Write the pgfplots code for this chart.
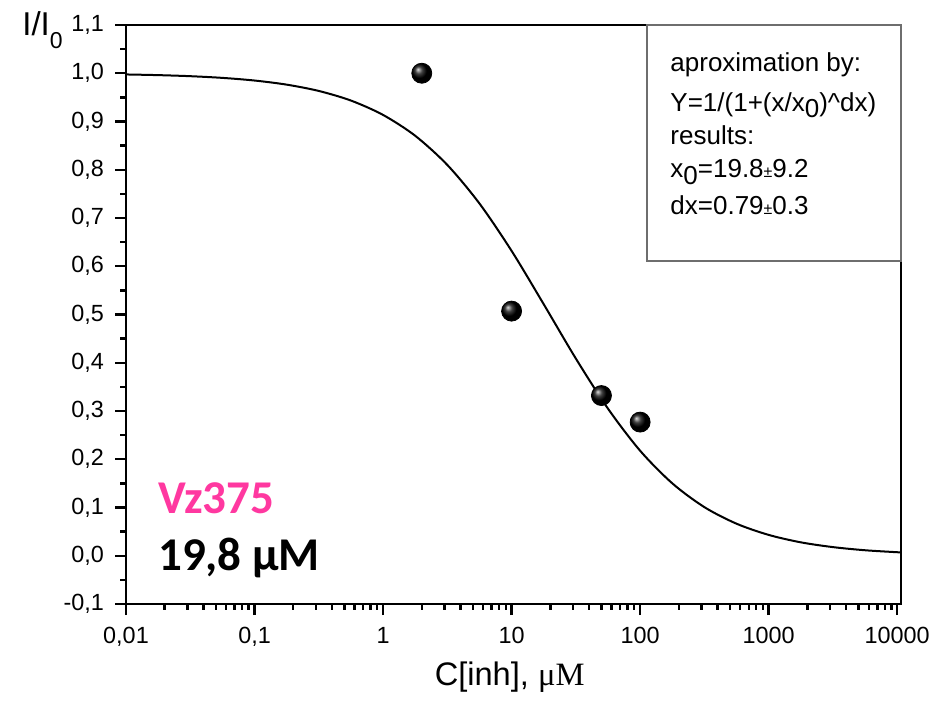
\documentclass[border=0pt]{standalone}
\usepackage{pgfplots}
\pgfplotsset{compat=1.18}
\usepackage{fontspec}
\setmainfont{Liberation Sans}
\newfontfamily\timesfont{Liberation Serif}
\newfontfamily\calibri{Carlito}
\definecolor{vzpink}{RGB}{255,56,160}
\definecolor{boxgray}{RGB}{110,110,110}

\begin{document}
\begin{tikzpicture}
\begin{axis}[
    scale only axis,
    width=387.5pt,
    height=289.5pt,
    xmode=log,
    xmin=0.01, xmax=10700,
    ymin=-0.1, ymax=1.1,
    xtick={0.01,0.1,1,10,100,1000,10000},
    xticklabels={{0,01},{0,1},1,10,100,1000,10000},
    minor xtick={0.02,0.03,0.04,0.05,0.06,0.07,0.08,0.09,
                 0.2,0.3,0.4,0.5,0.6,0.7,0.8,0.9,
                 2,3,4,5,6,7,8,9,
                 20,30,40,50,60,70,80,90,
                 200,300,400,500,600,700,800,900,
                 2000,3000,4000,5000,6000,7000,8000,9000},
    ytick={-0.1,0,0.1,0.2,0.3,0.4,0.5,0.6,0.7,0.8,0.9,1.0,1.1},
    yticklabels={{-0,1},{0,0},{0,1},{0,2},{0,3},{0,4},{0,5},{0,6},{0,7},{0,8},{0,9},{1,0},{1,1}},
    minor ytick={-0.05,0.05,0.15,0.25,0.35,0.45,0.55,0.65,0.75,0.85,0.95,1.05},
    tick align=outside,
    xtick pos=bottom,
    ytick pos=left,
    major tick length=5.5pt,
    minor tick length=2.8pt,
    every tick/.style={black, line width=1.2pt},
    axis line style={line width=1.4pt},
    tick label style={font=\fontsize{11.7}{13}\selectfont},
    xticklabel style={yshift=-2.5pt},
    yticklabel style={xshift=-2pt},
    /pgf/number format/assume math mode=true,
    clip mode=individual,
]
    % fitted curve Y=1/(1+(x/19.8)^0.79)
    \addplot[black, line width=1pt, smooth] coordinates {
        (0.01,0.9975) (0.017783,0.9961) (0.031623,0.9939) (0.056234,0.9904)
        (0.1,0.9849) (0.17783,0.9764) (0.31623,0.9633) (0.56234,0.9434)
        (1,0.9136) (1.7783,0.8704) (3.1623,0.8099) (5.6234,0.7300)
        (10,0.6318) (17.783,0.5212) (31.623,0.4086) (56.234,0.3048)
        (100,0.2176) (177.83,0.1501) (316.23,0.1007) (562.34,0.0664)
        (1000,0.0432) (1778.3,0.0278) (3162.3,0.0179) (5623.4,0.0114)
        (10000,0.0073) (10700,0.0069)
    };
    % measured points
    \addplot[only marks, mark=ball, mark size=5pt, ball color=black] coordinates {
        (2,1.0) (10,0.507) (50,0.332) (100,0.277)
    };

    % results box
    \draw[boxgray, line width=0.8pt] (axis description cs:0.672,0.592) rectangle (axis description cs:1,1);
    \begin{scope}[every node/.style={anchor=base west, inner sep=0pt, font=\fontsize{13}{15}\selectfont}]
        \node at (axis description cs:0.702,0.919) {aproximation by:};
        \node at (axis description cs:0.702,0.851) {Y=1/(1+(x/x\raisebox{-0.45ex}{0})\textasciicircum dx)};
        \node at (axis description cs:0.702,0.793) {results:};
        \node at (axis description cs:0.702,0.736) {x\raisebox{-0.45ex}{0}=19.8{\fontsize{8}{9}\selectfont ±}9.2};
        \node at (axis description cs:0.702,0.672) {dx=0.79{\fontsize{8}{9}\selectfont ±}0.3};
    \end{scope}

    % compound label
    \node[anchor=base west, inner sep=0pt, font=\calibri\bfseries\fontsize{23.5}{26}\selectfont, text=vzpink]
        at (axis description cs:0.041,0.157) {Vz375};
    \node[anchor=base west, inner sep=0pt, font=\calibri\bfseries\fontsize{23.5}{26}\selectfont]
        at (axis description cs:0.041,0.0587) {19,8 μM};

    % axis labels
    \node[anchor=base, inner sep=0pt, font=\fontsize{16.3}{18}\selectfont]
        at (axis description cs:0.495,0) [yshift=-40.5pt] {C[inh], {\timesfont μM}};
    \node[anchor=base west, inner sep=0pt, font=\fontsize{16.5}{18}\selectfont]
        at (axis description cs:0,0.981) [xshift=-52pt] {I/I\raisebox{-6.5pt}{\fontsize{11.5}{12}\selectfont 0}};
\end{axis}
\pgfresetboundingbox
\path[use as bounding box] (-63pt,-48.5pt) rectangle (402pt,302pt);
\end{tikzpicture}
\end{document}
